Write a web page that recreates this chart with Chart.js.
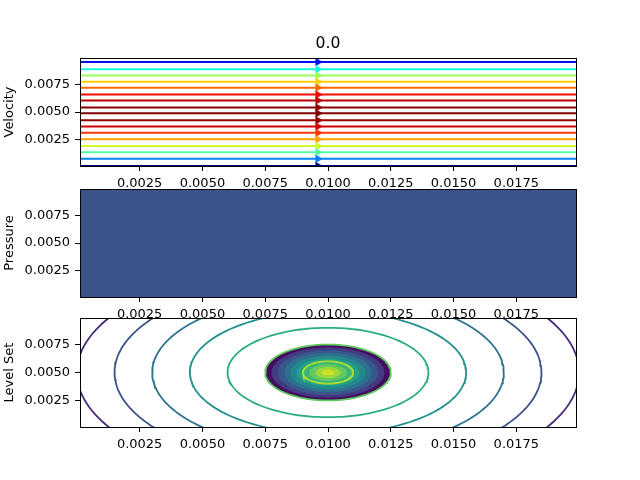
<!DOCTYPE html>
<html>
<head>
<meta charset="utf-8">
<title>Velocity / Pressure / Level Set</title>
<script src="https://cdn.jsdelivr.net/npm/chart.js@4.4.0/dist/chart.umd.min.js"></script>
<style>
    html, body { margin: 0; padding: 0; background: #ffffff; }
    #wrap { position: relative; width: 640px; height: 480px; }
    #wrap canvas { position: absolute; left: 0; top: 0; }
</style>
</head>
<body>
<div id="wrap">
    <canvas id="velocityChart" width="640" height="480"></canvas>
    <canvas id="pressureChart" width="640" height="480"></canvas>
    <canvas id="levelSetChart" width="640" height="480"></canvas>
</div>
<script>
// axis limits (cell centres of the domain) and ticks
const xLimits = [0.000125, 0.019875];
const yLimits = [0.000125, 0.009875];
const xTicks = [0.0025, 0.0050, 0.0075, 0.0100, 0.0125, 0.0150, 0.0175];
const xTickLabels = ['0.0025', '0.0050', '0.0075', '0.0100', '0.0125', '0.0150', '0.0175'];
const yTicks = [0.0025, 0.0050, 0.0075];
const yTickLabels = ['0.0025', '0.0050', '0.0075'];
const plotTitle = '0.0';
const rowTitles = ['Velocity', 'Pressure', 'Level Set'];

// velocity panel: streamline heights and speed (0..1 on the jet scale)
const streamY = [0.00013, 0.00077, 0.00137, 0.00193, 0.00253, 0.00312, 0.00369, 0.00425, 0.00488,
                 0.00541, 0.00604, 0.00657, 0.00720, 0.00773, 0.00830, 0.00887, 0.00952];
const streamSpeed = [0.00, 0.25, 0.45, 0.60, 0.74, 0.85, 0.93, 0.98, 1.00,
                     0.99, 0.95, 0.90, 0.80, 0.69, 0.54, 0.37, 0.14];
const arrowX = 0.0096;

// level set panel: contour circles and the filled inside bands
const levelCentre = [0.0100, 0.0050];
const contourRadii = [0.0100, 0.0085, 0.0070, 0.0055, 0.0040, 0.0025, 0.0010];
const contourShade = [0.125, 0.25, 0.375, 0.50, 0.625, 0.75, 0.875];
const bandRadii = [0.0025, 0.00225, 0.0020, 0.00175, 0.0015, 0.00125, 0.0010, 0.00075, 0.0005, 0.00025];
const bandShade = [0.03, 0.17, 0.27, 0.37, 0.47, 0.57, 0.66, 0.76, 0.85, 0.93];

const FONT = 'DejaVu Sans';

// matplotlib jet
function jet(v) {
    const seg = {
        r: [[0, 0], [0.35, 0], [0.66, 1], [0.89, 1], [1, 0.5]],
        g: [[0, 0], [0.125, 0], [0.375, 1], [0.64, 1], [0.91, 0], [1, 0]],
        b: [[0, 0.5], [0.11, 1], [0.34, 1], [0.65, 0], [1, 0]]
    };
    function interp(pts) {
        for (let i = 1; i < pts.length; i++) {
            if (v <= pts[i][0]) {
                const t = (v - pts[i - 1][0]) / (pts[i][0] - pts[i - 1][0]);
                return pts[i - 1][1] + t * (pts[i][1] - pts[i - 1][1]);
            }
        }
        return pts[pts.length - 1][1];
    }
    return 'rgb(' + Math.round(interp(seg.r) * 255) + ',' + Math.round(interp(seg.g) * 255) + ',' + Math.round(interp(seg.b) * 255) + ')';
}

// viridis, sampled every 0.1
const viridisStops = [[68, 1, 84], [72, 36, 117], [65, 68, 135], [53, 95, 141], [42, 120, 142], [33, 145, 140],
                      [34, 168, 132], [68, 191, 112], [122, 209, 81], [189, 223, 38], [253, 231, 37]];
function viridis(v) {
    const p = Math.min(Math.max(v, 0), 1) * 10;
    const i = Math.min(Math.floor(p), 9);
    const t = p - i;
    const a = viridisStops[i], b = viridisStops[i + 1];
    return 'rgb(' + [0, 1, 2].map(k => Math.round(a[k] + t * (b[k] - a[k]))).join(',') + ')';
}

// points along a circle of radius r round the level set centre
function ring(r) {
    const pts = [];
    for (let deg = 0; deg <= 360; deg += 2) {
        const t = deg * Math.PI / 180;
        pts.push({x: levelCentre[0] + r * Math.cos(t), y: levelCentre[1] + r * Math.sin(t)});
    }
    return pts;
}

// matplotlib style box round the axes
const frame = {
    id: 'frame',
    afterDatasetsDraw(chart) {
        const a = chart.chartArea;
        const ctx = chart.ctx;
        ctx.save();
        ctx.strokeStyle = '#000';
        ctx.lineWidth = 1;
        ctx.strokeRect(Math.round(a.left) + 0.5, Math.round(a.top) + 0.5,
                       Math.round(a.right - a.left), Math.round(a.bottom - a.top));
        ctx.restore();
    }
};

function panelOptions(yTitle, padTop, padBottom, withTitle) {
    return {
        responsive: false,
        animation: false,
        devicePixelRatio: 1,
        events: [],
        layout: { padding: { top: padTop, right: 64, bottom: padBottom, left: 0 } },
        plugins: {
            legend: { display: false },
            tooltip: { enabled: false },
            title: {
                display: withTitle,
                fullSize: false,
                text: plotTitle,
                color: '#000',
                font: { family: FONT, size: 15.6, weight: 'normal' },
                padding: { top: 0, bottom: 4.3 }
            }
        },
        scales: {
            x: {
                type: 'linear',
                min: xLimits[0],
                max: xLimits[1],
                afterBuildTicks: s => { s.ticks = xTicks.map(v => ({ value: v })); },
                afterFit: s => { s.height = 22; },
                border: { display: false },
                grid: { drawOnChartArea: false, drawTicks: true, tickLength: 5, color: '#000' },
                ticks: {
                    autoSkip: false,
                    maxRotation: 0,
                    padding: 5,
                    color: '#000',
                    font: { family: FONT, size: 13 },
                    callback: v => xTickLabels[xTicks.indexOf(v)]
                }
            },
            y: {
                type: 'linear',
                min: yLimits[0],
                max: yLimits[1],
                afterBuildTicks: s => { s.ticks = yTicks.map(v => ({ value: v })); },
                afterFit: s => { s.width = 80; },
                border: { display: false },
                grid: { drawOnChartArea: false, drawTicks: true, tickLength: 5, color: '#000' },
                title: {
                    display: true,
                    text: yTitle,
                    color: '#000',
                    font: { family: FONT, size: 13 },
                    padding: { top: 2, bottom: 0 }
                },
                ticks: {
                    autoSkip: false,
                    padding: 5,
                    color: '#000',
                    font: { family: FONT, size: 13 },
                    callback: v => yTickLabels[yTicks.indexOf(v)]
                }
            }
        }
    };
}

// Panel 1: velocity streamlines

const velocitySets = streamY.map((y, i) => {
    const c = jet(streamSpeed[i]);
    return {
        data: [{ x: xLimits[0], y: y }, { x: arrowX, y: y }, { x: xLimits[1], y: y }],
        showLine: true,
        borderColor: c,
        borderWidth: 2,
        pointStyle: 'triangle',
        rotation: 90,
        pointRadius: ctx => ctx.dataIndex === 1 ? 4.4 : 0,
        pointBackgroundColor: c,
        pointBorderColor: c,
        pointBorderWidth: 0.5,
        clip: 0
    };
});

new Chart(document.getElementById('velocityChart'), {
    type: 'scatter',
    data: { datasets: velocitySets },
    options: panelOptions(rowTitles[0], 35, 292, true),
    plugins: [frame]
});

// Panel 2: pressure (constant field fills the whole box)

new Chart(document.getElementById('pressureChart'), {
    type: 'scatter',
    data: {
        datasets: [{
            data: [{ x: xLimits[0], y: yLimits[1] }, { x: xLimits[1], y: yLimits[1] }],
            showLine: true,
            borderWidth: 0,
            pointRadius: 0,
            fill: 'start',
            backgroundColor: '#3b528b',
            clip: 0
        }]
    },
    options: panelOptions(rowTitles[1], 189, 161, false),
    plugins: [frame]
});

// Panel 3: level set contours

const levelSets = [];
contourRadii.forEach((r, i) => {
    levelSets.push({
        data: ring(r),
        showLine: true,
        borderColor: viridis(contourShade[i]),
        borderWidth: 1.8,
        pointRadius: 0,
        fill: false,
        order: 0,
        clip: 0
    });
});
bandRadii.forEach((r, i) => {
    levelSets.push({
        data: ring(r),
        showLine: true,
        borderWidth: 0,
        pointRadius: 0,
        fill: 'shape',
        backgroundColor: viridis(bandShade[i]),
        order: 1 + bandRadii.length - i,
        clip: 0
    });
});

new Chart(document.getElementById('levelSetChart'), {
    type: 'scatter',
    data: { datasets: levelSets },
    options: panelOptions(rowTitles[2], 318, 31, false),
    plugins: [frame]
});
</script>
</body>
</html>
